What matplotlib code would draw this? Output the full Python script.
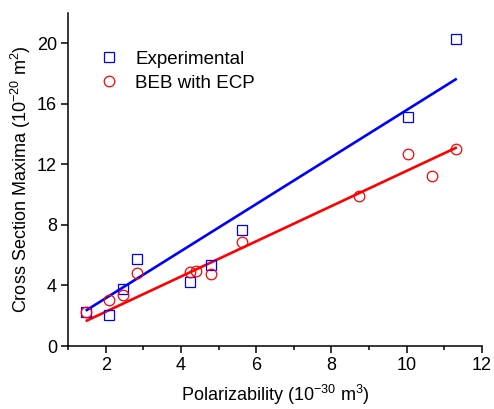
import matplotlib
matplotlib.use("Agg")
import matplotlib.pyplot as plt
from matplotlib.ticker import MultipleLocator

plt.rcParams['font.family'] = ['Liberation Sans', 'DejaVu Sans']
plt.rcParams['mathtext.default'] = 'regular'

exp_x = [1.47, 2.09, 2.45, 2.83, 4.24, 4.79, 5.62, 10.03, 11.30]
exp_y = [2.23, 2.07, 3.75, 5.76, 4.26, 5.34, 7.66, 15.12, 20.26]

beb_x = [1.49, 2.09, 2.45, 2.83, 4.24, 4.41, 4.80, 5.62, 8.72, 10.03, 10.66, 11.30]
beb_y = [2.23, 3.07, 3.40, 4.81, 4.86, 4.99, 4.79, 6.89, 9.89, 12.70, 11.21, 13.00]

fit_x = [1.5, 11.3]
exp_fit_y = [2.38, 17.62]
beb_fit_y = [1.68, 13.09]

fig = plt.figure(figsize=(4.94, 4.09), dpi=100)
ax = fig.add_axes([0.1377, 0.154, 0.838, 0.814])

ax.plot(fit_x, exp_fit_y, color='#0000ff', lw=1.9, zorder=2)
ax.plot(fit_x, beb_fit_y, color='#ff0000', lw=1.9, zorder=2)
ax.plot(exp_x, exp_y, ls='none', marker='s', ms=6.6, mfc='none', mec='#0000ff', mew=0.9,
        label='Experimental', zorder=3)
ax.plot(beb_x, beb_y, ls='none', marker='o', ms=7.6, mfc='none', mec='#ff0000', mew=0.9,
        label='BEB with ECP', zorder=3)

ax.set_xlim(1, 12)
ax.set_ylim(0, 22)
ax.xaxis.set_major_locator(MultipleLocator(2))
ax.xaxis.set_minor_locator(MultipleLocator(1))
ax.yaxis.set_major_locator(MultipleLocator(4))
ax.spines['top'].set_visible(False)
ax.spines['right'].set_visible(False)
for s in ('left', 'bottom'):
    ax.spines[s].set_linewidth(1.1)
ax.tick_params(which='major', direction='out', length=5, width=1.1, labelsize=13, pad=3)
ax.tick_params(which='minor', direction='out', length=3, width=1.1)

ax.set_xlabel('Polarizability (10$^{-30}$ m$^3$)', fontsize=13, labelpad=6)
ax.set_ylabel('Cross Section Maxima (10$^{-20}$ m$^2$)', fontsize=13, labelpad=3)

ax.legend(loc='upper left', bbox_to_anchor=(0.025, 0.938), frameon=False, fontsize=13.5,
          handletextpad=0.63, labelspacing=0.36, handlelength=1.5)

fig.savefig('out.png', dpi=100)
